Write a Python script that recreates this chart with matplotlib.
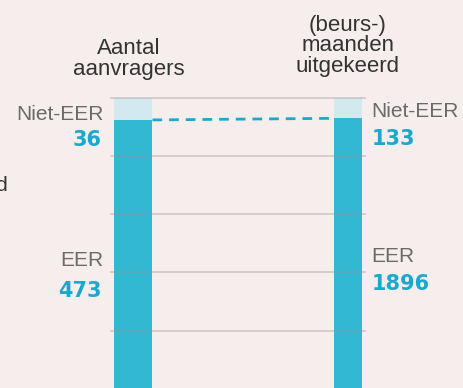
import matplotlib
matplotlib.use('Agg')
import matplotlib.pyplot as plt

# Aanvragers en uitgekeerde maanden, uitgesplitst naar EER / niet-EER
columns = ['Aantal\naanvragers', '(beurs-)\nmaanden\nuitgekeerd']
eer = [473, 1896]
niet_eer = [36, 133]
gridlines = [25, 43.75, 62.5, 81.25, 100]

BG = '#f6eeec'
DARK = '#33b8d3'
LIGHT = '#d3e9f0'
NUM = '#19a9cd'
GREY = '#6a6a6a'
plt.rcParams['font.family'] = ['Liberation Sans', 'DejaVu Sans']

W, H = 464, 388
fig = plt.figure(figsize=(W / 100, H / 100), dpi=100, facecolor=BG)
ax = fig.add_axes([110 / W, 0, 256 / W, 290 / H])
ax.set_facecolor(BG)
ax.set_xlim(-0.107, 1.084)
ax.set_ylim(100 - 290 / 3.1, 100)
ax.axis('off')

widths = [0.181, 0.130]
totals = [e + n for e, n in zip(eer, niet_eer)]
eer_pct = [e / t * 100 for e, t in zip(eer, totals)]
niet_pct = [n / t * 100 for n, t in zip(niet_eer, totals)]

for i in range(2):
    ax.bar(i, eer_pct[i], width=widths[i], color=DARK, zorder=2)
    ax.bar(i, niet_pct[i], bottom=eer_pct[i], width=widths[i], color=LIGHT, zorder=2)

ax.hlines(gridlines, -0.107, 1.084, colors='#9a9090', alpha=0.45, lw=1.1,
          zorder=3, clip_on=False)

# verbindingslijn tussen de EER-aandelen
ax.plot([widths[0] / 2, 1 - widths[1] / 2], eer_pct, ls=(0, (3.5, 2.5)),
        color=NUM, lw=2, zorder=4)

def px_to_y(py):
    return 100 - (py - 98) / 3.1

lab = dict(fontsize=15, color=GREY)
num = dict(fontsize=15, color=NUM, fontweight='bold', family='DejaVu Sans')

# linkerkolom
xl = -widths[0] / 2 - 0.045
ax.text(xl, px_to_y(120), 'Niet-EER', ha='right', va='baseline', clip_on=False, **lab)
ax.text(xl - 0.01, px_to_y(146), str(niet_eer[0]), ha='right', va='baseline', clip_on=False, **num)
ax.text(xl, px_to_y(266), 'EER', ha='right', va='baseline', clip_on=False, **lab)
ax.text(xl - 0.01, px_to_y(297), str(eer[0]), ha='right', va='baseline', clip_on=False, **num)

# rechterkolom
xr = 1 + widths[1] / 2 + 0.045
ax.text(xr, px_to_y(117), 'Niet-EER', ha='left', va='baseline', clip_on=False, **lab)
ax.text(xr, px_to_y(145), str(niet_eer[1]), ha='left', va='baseline', clip_on=False, **num)
ax.text(xr, px_to_y(262), 'EER', ha='left', va='baseline', clip_on=False, **lab)
ax.text(xr, px_to_y(290), str(eer[1]), ha='left', va='baseline', clip_on=False, **num)

# kolomkoppen
head = dict(ha='center', va='baseline', linespacing=0.98, fontsize=16,
            color='#333333', clip_on=False)
ax.text(-0.02, px_to_y(75), columns[0], **head)
ax.text(1, px_to_y(72), columns[1], **head)

# afgesneden tekst aan de linkerrand
fig.text(8 / W, 1 - 191 / H, 'uitgekeerd', ha='right', va='baseline',
         fontsize=15, color='#333333')

fig.savefig('out.png', dpi=100, facecolor=BG)
